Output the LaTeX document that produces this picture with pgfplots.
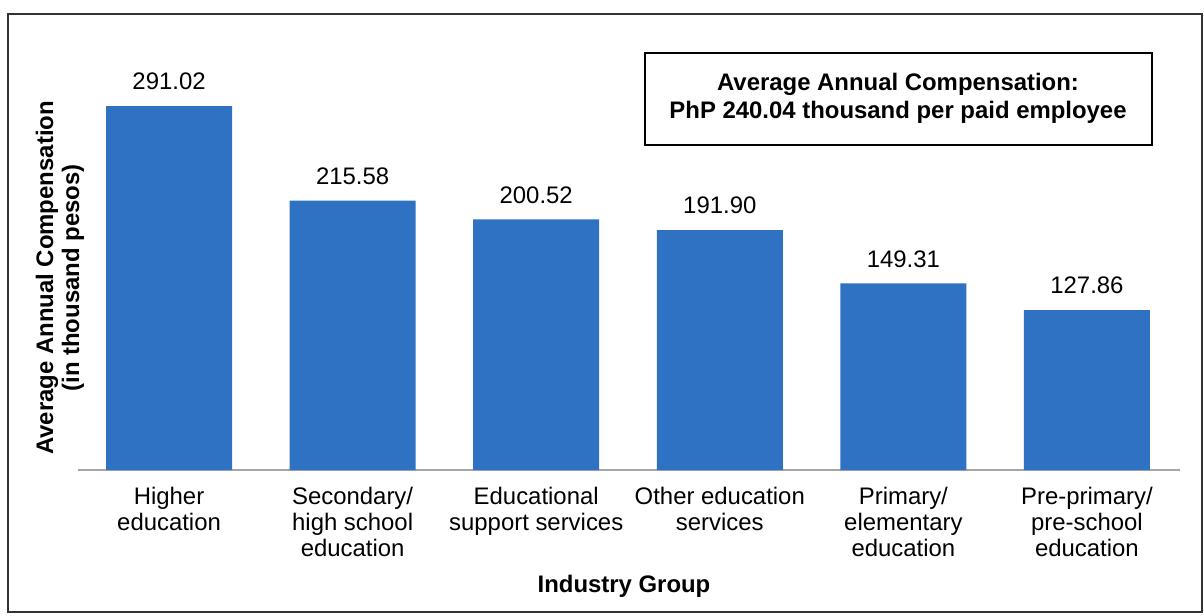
\documentclass[border=0pt]{standalone}
\usepackage{pgfplots}
\pgfplotsset{compat=1.18}
\usepackage{fontspec}
\setmainfont{Liberation Sans}
\definecolor{barblue}{HTML}{2F72C4}
\begin{document}
\begin{tikzpicture}[x=1bp,y=1bp]
\useasboundingbox (-39,-72.5) rectangle (563,235);
\draw[line width=0.9bp, black!80] (-35,228) rectangle (562,-71);
\begin{axis}[
    scale only axis,
    width=551bp, height=220bp,
    axis x line=bottom, axis y line=none,
    axis line style={gray!70, line width=0.8bp, -},
    xmin=-0.496, xmax=5.507,
    ymin=0, ymax=352,
    xtick=data,
    xticklabels={{Higher\\education},{Secondary/\\high school\\education},{Educational\\support services},{Other education\\services},{Primary/\\elementary\\education},{Pre-primary/\\pre-school\\education}},
    xticklabel style={align=center, font=\fontsize{12}{13}\selectfont, yshift=-5bp},
    major tick length=0pt,
    ybar, bar width=63bp,
    nodes near coords,
    nodes near coords style={font=\fontsize{12}{13}\selectfont, yshift=4.5bp, /pgf/number format/.cd, fixed, fixed zerofill, precision=2},
    /pgf/number format/assume math mode=true,
    clip=false,
]
\addplot[fill=barblue, draw=none] coordinates {(0,291.02) (1,215.58) (2,200.52) (3,191.90) (4,149.31) (5,127.86)};
\end{axis}
\node[font=\bfseries\fontsize{12}{13}\selectfont, align=center] at (273,-58) {Industry Group};
\node[font=\bfseries\fontsize{12}{13}\selectfont, align=center, rotate=90] at (-9,96) {Average Annual Compensation\\(in thousand pesos)};
\draw[line width=0.8bp] (283.5,208.5) rectangle (537,162.5);
\node[font=\bfseries\fontsize{12}{14}\selectfont, align=center] at (410,186) {Average Annual Compensation:\\PhP 240.04 thousand per paid employee};
\end{tikzpicture}
\end{document}
